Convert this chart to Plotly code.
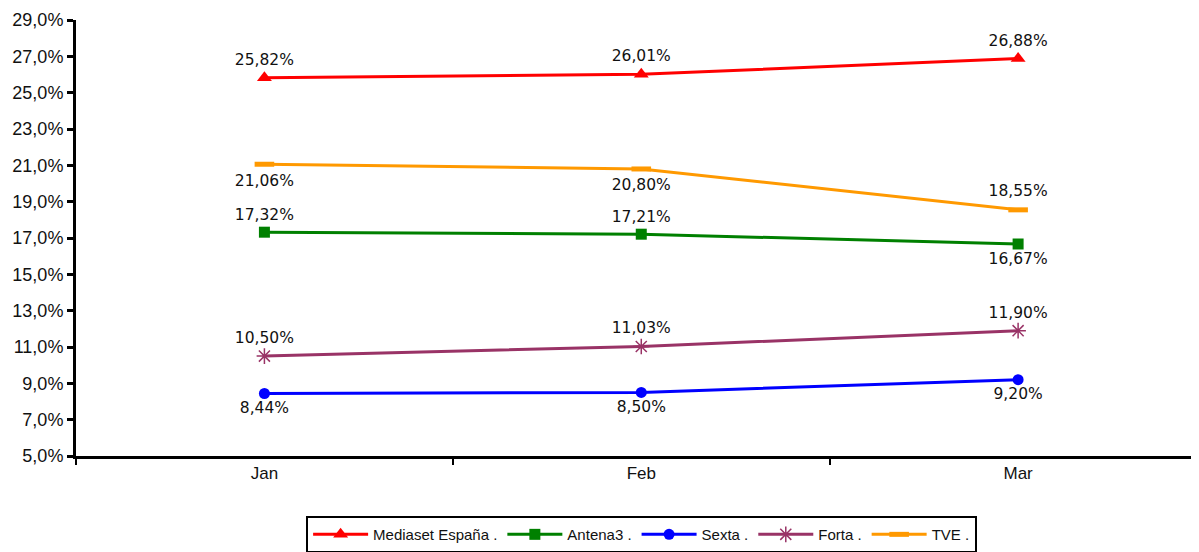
import plotly.graph_objects as go

months = ["Jan", "Feb", "Mar"]
mediaset = [25.82, 26.01, 26.88]
antena3 = [17.32, 17.21, 16.67]
sexta = [8.44, 8.50, 9.20]
forta = [10.50, 11.03, 11.90]
tve = [21.06, 20.80, 18.55]

series = [
    ("Mediaset España .", mediaset, "#FF0000", "triangle-up", ["top center"] * 3),
    ("Antena3 .", antena3, "#008000", "square", ["top center", "top center", "bottom center"]),
    ("Sexta .", sexta, "#0000FF", "circle", ["bottom center"] * 3),
    ("Forta .", forta, "#993366", "asterisk", ["top center"] * 3),
    ("TVE .", tve, "#FF9900", "line-ew", ["bottom center", "bottom center", "top center"]),
]

fig = go.Figure()
for name, vals, color, sym, pos in series:
    if sym == "line-ew":
        marker = dict(symbol=sym, size=14, color=color, line=dict(color=color, width=5))
    elif sym == "asterisk":
        marker = dict(symbol=sym, size=13, color=color, line=dict(color=color, width=1.5))
    elif sym == "triangle-up":
        marker = dict(symbol=sym, size=13, color=color, line=dict(width=0))
    else:
        marker = dict(symbol=sym, size=11, color=color, line=dict(width=0))
    fig.add_trace(go.Scatter(
        x=months, y=vals, name=name, mode="lines+markers+text",
        line=dict(color=color, width=3),
        marker=marker,
        text=[f"{v:.2f}%".replace(".", ",") for v in vals],
        textposition=pos,
        textfont=dict(family="DejaVu Sans", size=15.5, color="#111111"),
        cliponaxis=False,
    ))

fig.update_layout(
    width=1191, height=544,
    margin=dict(l=68, r=0, t=12, b=96),
    plot_bgcolor="white", paper_bgcolor="white",
    font=dict(family="Liberation Sans, Arial", size=17, color="#111111"),
    showlegend=True,
    legend=dict(
        orientation="h", xref="container", yref="container",
        x=0.532, xanchor="center", y=0.066, yanchor="top",
        bordercolor="black", borderwidth=2,
        font=dict(family="Liberation Sans, Arial", size=15, color="#111111"),
        itemwidth=55,
    ),
    xaxis=dict(
        range=[-0.5, 2.48], showgrid=False, showline=True, linecolor="black", linewidth=3,
        ticks="outside", tickson="boundaries", ticklen=6, tickwidth=2, tickcolor="black",
        zeroline=False,
    ),
    yaxis=dict(
        range=[5, 29], tickvals=list(range(5, 30, 2)),
        ticktext=[f"{v},0%" for v in range(5, 30, 2)],
        tickfont=dict(size=18),
        showgrid=False, showline=True, linecolor="black", linewidth=3,
        ticks="outside", ticklen=6, tickwidth=3, tickcolor="black", zeroline=False,
    ),
)

fig.write_html("out.html")
